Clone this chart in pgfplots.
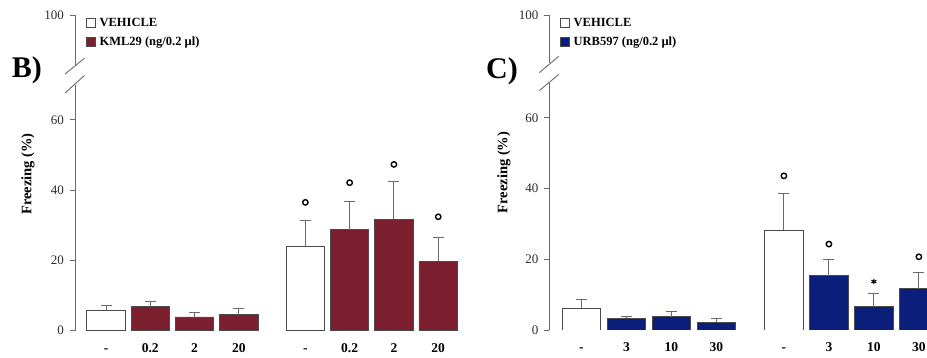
\documentclass[border=0pt]{standalone}
\usepackage{pgfplots}
\pgfplotsset{compat=1.18}
\usepackage{fontspec}
\setmainfont{Liberation Serif}
\definecolor{kred}{HTML}{7B1F2F}
\definecolor{unavy}{HTML}{0B1F7A}
\definecolor{axgray}{HTML}{6A6A6A}
\definecolor{barline}{HTML}{4A4A4A}
\definecolor{txtgray}{HTML}{2A2A2A}
\pgfplotsset{
 panel/.style={
  scale only axis,
  axis lines*=left,
  axis line style={draw=none},
  xtick style={draw=none},
  ytick style={draw=axgray, line width=0.8pt},
  tick align=outside,
  major tick length=5pt,
  ymin=0,
  clip mode=individual,
  yticklabels={0,20,40,60,100},
  yticklabel style={font=\fontsize{13}{15}\selectfont, text=txtgray, xshift=-2.5pt},
  xticklabel style={font=\fontsize{13.5}{15}\selectfont\bfseries, text=black, yshift=-4pt, text height=9.2pt, text depth=0pt},
  xtick={0,1,2,3,4.5,5.5,6.5,7.5},
  ylabel={Freezing (\%)},
  every axis y label/.style={rotate=90, anchor=center, font=\fontsize{14.5}{16}\selectfont\bfseries},
  legend style={draw=none, fill=none, anchor=north west, font=\fontsize{12.5}{14}\selectfont\bfseries, row sep=4.5pt, inner sep=0pt,
    /tikz/every odd column/.append style={column sep=2pt}},
  legend cell align=left,
  legend image code/.code={\draw[#1] (0pt,-4.6pt) rectangle (9.2pt,4.6pt);},
 },
 barw/.style={ybar, bar shift=0pt, draw=barline, line width=0.8pt, forget plot,
   error bars/y dir=plus, error bars/y explicit,
   error bars/error bar style={axgray, line width=1pt},
   error bars/error mark options={axgray, rotate=90, mark size=5.5pt, line width=1pt}},
 sig/.style={only marks, mark=o, mark size=2.7pt, black, line width=1.4pt, forget plot},
}
\begin{document}
\begin{tikzpicture}[x=1pt,y=1pt]
\path[use as bounding box] (0,0) rectangle (927,358);
% ---------------- Panel B ----------------
\begin{axis}[panel,
  at={(75pt,27.3pt)}, anchor=south west,
  width=385.4pt, height=315.7pt,
  xmin=-0.7, xmax=8, ymax=89.8,
  ytick={0,20,40,60,89.8},
  xticklabels={-,0.2,2,20,-,0.2,2,20},
  ylabel style={at={(axis description cs:-0.122,0.496)}},
  legend style={at={(axis description cs:0.027,0.997)}},
]
\addlegendimage{draw=barline, fill=white, line width=0.8pt}
\addlegendentry{VEHICLE}
\addlegendimage{draw=barline, fill=kred, line width=0.8pt}
\addlegendentry{KML29 (ng/0.2 µl)}
\addplot[barw, bar width=38.5pt, fill=white] coordinates {
 (0,5.7) +- (0,1.5)
 (4.5,23.9) +- (0,7.4)
};
\addplot[barw, bar width=38.5pt, fill=kred] coordinates {
 (1,6.8) +- (0,1.6)
 (2,3.9) +- (0,1.3)
 (3,4.5) +- (0,1.7)
 (5.5,28.7) +- (0,8.1)
 (6.5,31.7) +- (0,10.6)
 (7.5,19.8) +- (0,6.7)
};
\addplot[sig] coordinates {(4.5,36.5) (5.5,42.1) (6.5,47.3) (7.5,32.4)};
\draw[axgray, line width=0.9pt] (axis cs:-0.7,0) -- (axis cs:-0.7,70.0);
\draw[axgray, line width=0.9pt] (axis cs:-0.7,75.6) -- (axis cs:-0.7,89.8);
\draw[axgray, line width=0.9pt] ([xshift=9.5pt]axis cs:-0.7,77.5) -- ([xshift=-10pt]axis cs:-0.7,73.0);
\draw[axgray, line width=0.9pt] ([xshift=9.5pt]axis cs:-0.7,72.6) -- ([xshift=-10pt]axis cs:-0.7,67.6);
\end{axis}
\node[anchor=base west, inner sep=0pt, font=\fontsize{30}{30}\selectfont\bfseries] at (11.7,280.7) {B)};
% ---------------- Panel C ----------------
\begin{axis}[panel,
  at={(549.3pt,28pt)}, anchor=south west,
  width=377.7pt, height=315pt,
  xmin=-0.715, xmax=7.68, ymax=89.1,
  ytick={0,20,40,60,89.1},
  xticklabels={-,3,10,30,-,3,10,30},
  ylabel style={at={(axis description cs:-0.12,0.5)}},
  legend style={at={(axis description cs:0.027,0.997)}},
]
\addlegendimage{draw=barline, fill=white, line width=0.8pt}
\addlegendentry{VEHICLE}
\addlegendimage{draw=barline, fill=unavy, line width=0.8pt}
\addlegendentry{URB597 (ng/0.2 µl)}
\addplot[barw, bar width=38.3pt, fill=white] coordinates {
 (0,6.1) +- (0,2.4)
 (4.5,28.3) +- (0,10.4)
};
\addplot[barw, bar width=38.3pt, fill=unavy] coordinates {
 (1,3.3) +- (0,0.5)
 (2,3.8) +- (0,1.4)
 (3,2.2) +- (0,1.0)
 (5.5,15.4) +- (0,4.4)
 (6.5,6.6) +- (0,3.8)
 (7.5,11.7) +- (0,4.5)
};
\addplot[sig] coordinates {(4.5,43.6) (5.5,24.3) (7.5,20.7)};
\addplot[only marks, mark=asterisk, mark size=2.8pt, black, line width=1.1pt, forget plot] coordinates {(6.5,13.7)};
\draw[axgray, line width=0.9pt] (axis cs:-0.715,0) -- (axis cs:-0.715,70.0);
\draw[axgray, line width=0.9pt] (axis cs:-0.715,75.6) -- (axis cs:-0.715,89.1);
\draw[axgray, line width=0.9pt] ([xshift=9.5pt]axis cs:-0.715,77.4) -- ([xshift=-10pt]axis cs:-0.715,72.8);
\draw[axgray, line width=0.9pt] ([xshift=9.5pt]axis cs:-0.715,72.3) -- ([xshift=-10pt]axis cs:-0.715,67.7);
\end{axis}
\node[anchor=base west, inner sep=0pt, font=\fontsize{30}{30}\selectfont\bfseries] at (486,279.7) {C)};
\end{tikzpicture}
\end{document}
